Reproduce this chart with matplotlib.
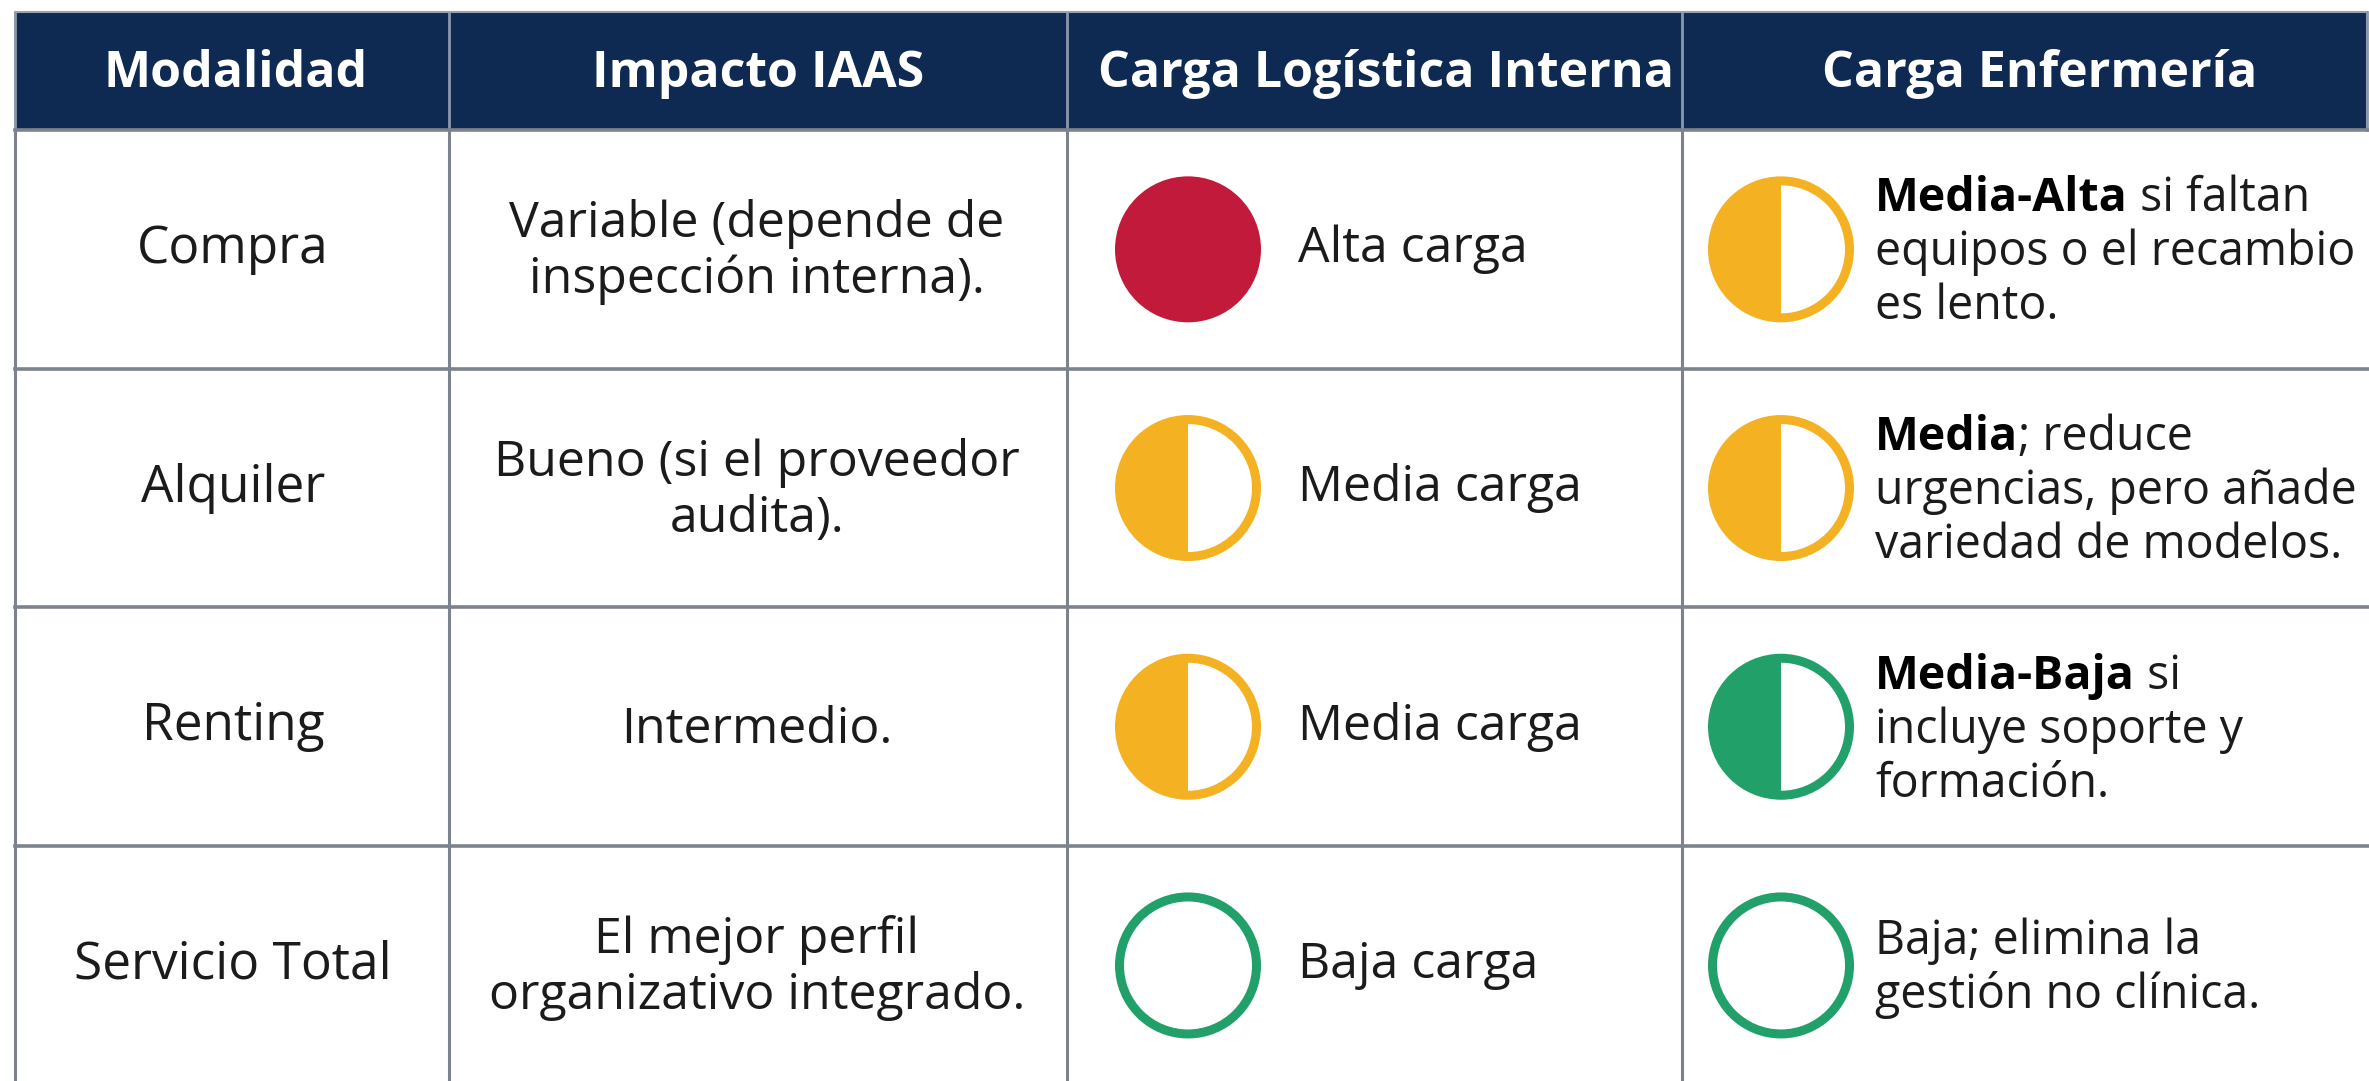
import matplotlib
matplotlib.use("Agg")
import matplotlib.pyplot as plt
from matplotlib.patches import Rectangle, Circle, Wedge

plt.rcParams['font.family'] = ['Open Sans', 'DejaVu Sans']

# ---------------- data ----------------
headers = ["Modalidad", "Impacto IAAS", "Carga Logística Interna", "Carga Enfermería"]
modalidades = ["Compra", "Alquiler", "Renting", "Servicio Total"]
impacto = [["Variable (depende de", "inspección interna)."],
           ["Bueno (si el proveedor", "audita)."],
           ["Intermedio."],
           ["El mejor perfil", "organizativo integrado."]]
logistica_nivel = ["alta", "media", "media", "baja"]
logistica_texto = ["Alta carga", "Media carga", "Media carga", "Baja carga"]
enfermeria_nivel = ["media", "media", "media_baja", "baja"]
enfermeria_negrita = ["Media-Alta", "Media", "Media-Baja", ""]
enfermeria_resto = [" si faltan", "; reduce", " si", "Baja; elimina la"]
enfermeria_lineas = [["equipos o el recambio", "es lento."],
                     ["urgencias, pero añade", "variedad de modelos."],
                     ["incluye soporte y", "formación."],
                     ["gestión no clínica."]]

# ---------------- styles ----------------
NAVY = "#0e2a52"
GRID = "#7d838c"
TXT = "#1b1b1b"
RED = "#c21a3a"
AMBER = "#f4b223"
GREEN = "#21a06a"
icon_style = {"alta": (RED, "full"), "media": (AMBER, "half"),
              "media_baja": (GREEN, "half"), "baja": (GREEN, "ring")}

W, H = 2369, 1081
fig = plt.figure(figsize=(W / 100, H / 100), dpi=100)
ax = fig.add_axes([0, 0, 1, 1])
ax.set_xlim(0, W)
ax.set_ylim(H, 0)
ax.axis("off")

col_x = [15, 449, 1067, 1682, 2367]
top, head_bot = 12, 130
row_h = 238.7
row_edges = [head_bot + i * row_h for i in range(len(modalidades) + 1)]
row_c = [(row_edges[i] + row_edges[i + 1]) / 2 for i in range(len(modalidades))]

header_cx = [236, 758, 1386, 2040]
col0_cx, col1_cx = 233, 757
icon2_cx, text2_x = 1188, 1298
icon3_cx, text3_x = 1781, 1875
R = 73
ring_px = 9
px2pt = 72 / 100

FS_HEAD, FS0, FS1, FS2, FS3 = 36, 37, 36, 36, 33.5
PITCH1, PITCH3 = 56, 54

# header
ax.add_patch(Rectangle((col_x[0], top), col_x[-1] - col_x[0], head_bot - top,
                       facecolor=NAVY, edgecolor="#9aa3ad", lw=1.5, zorder=1))
for cx, h in zip(header_cx, headers):
    ax.text(cx, (top + head_bot) / 2 + 3, h, color="white", fontsize=FS_HEAD,
            fontweight="bold", ha="center", va="center", zorder=3)

# grid
for x in col_x[:-1]:
    ax.plot([x, x], [head_bot, H + 5], color=GRID, lw=2.2, zorder=2, solid_capstyle="butt")
    ax.plot([x, x], [top, head_bot], color="#8b98aa", lw=2.0, zorder=2, solid_capstyle="butt")
ax.plot([col_x[-1], col_x[-1]], [top, head_bot], color="#8b98aa", lw=2.0, zorder=2)
for y in row_edges[:-1]:
    ax.plot([col_x[0], W], [y, y], color=GRID, lw=2.6, zorder=2)


def icon(cx, cy, kind):
    color, style = icon_style[kind]
    if style == "full":
        ax.add_patch(Circle((cx, cy), R, facecolor=color, edgecolor="none", zorder=3))
    else:
        if style == "half":
            ax.add_patch(Wedge((cx, cy), R - 2, 90, 270, facecolor=color,
                               edgecolor="none", zorder=3))
        ax.add_patch(Circle((cx, cy), R - ring_px / 2, facecolor="none",
                            edgecolor=color, lw=ring_px * px2pt, zorder=4))


def lines_block(x, cy, lines, fs, pitch, ha):
    n = len(lines)
    for i, ln in enumerate(lines):
        y = cy + (i - (n - 1) / 2) * pitch + 16
        ax.text(x, y, ln, fontsize=fs, color=TXT, ha=ha, va="baseline", zorder=3)


renderer = fig.canvas.get_renderer()

for i in range(len(modalidades)):
    cy = row_c[i]
    ax.text(col0_cx, cy, modalidades[i], fontsize=FS0, color=TXT,
            ha="center", va="center", zorder=3)
    lines_block(col1_cx, cy, impacto[i], FS1, PITCH1, "center")
    icon(icon2_cx, cy, logistica_nivel[i])
    ax.text(text2_x, cy, logistica_texto[i], fontsize=FS2, color=TXT,
            ha="left", va="center", zorder=3)
    icon(icon3_cx, cy, enfermeria_nivel[i])
    n = 1 + len(enfermeria_lineas[i])
    y0 = cy - (n - 1) / 2 * PITCH3 + 16
    x = text3_x
    if enfermeria_negrita[i]:
        tb = ax.text(x, y0, enfermeria_negrita[i], fontsize=FS3, fontweight="bold",
                     color="black", ha="left", va="baseline", zorder=3)
        x += tb.get_window_extent(renderer=renderer).width
    ax.text(x, y0, enfermeria_resto[i], fontsize=FS3, color=TXT,
            ha="left", va="baseline", zorder=3)
    for k, ln in enumerate(enfermeria_lineas[i]):
        ax.text(text3_x, y0 + (k + 1) * PITCH3, ln, fontsize=FS3, color=TXT,
                ha="left", va="baseline", zorder=3)

fig.savefig("out.png", dpi=100, facecolor="white")
